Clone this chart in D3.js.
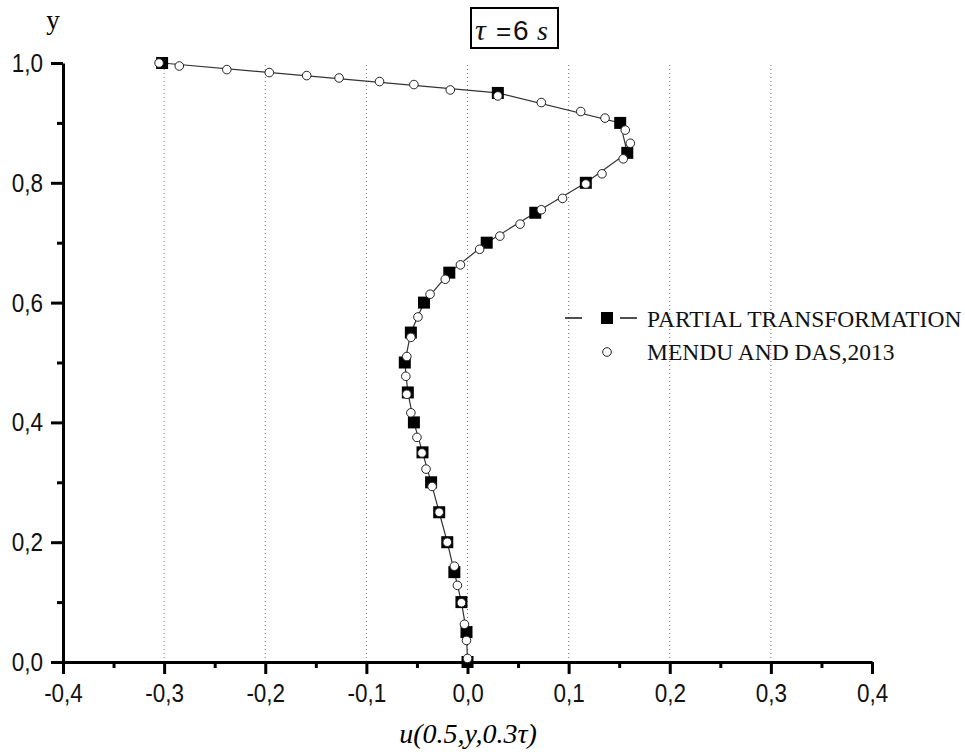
<!DOCTYPE html>
<html>
<head>
<meta charset="utf-8">
<script src="https://cdn.jsdelivr.net/npm/d3@7"></script>
<style>
	body { margin: 0; background: #fff; }
	svg { display: block; }
</style>
</head>
<body>
<div id="chart"></div>
<script>
// partial transformation results (squares + line)
var pt_x = [-0.302, 0.030, 0.151, 0.158, 0.117, 0.067, 0.019, -0.018, -0.043, -0.056, -0.062,
	-0.059, -0.053, -0.0445, -0.036, -0.028, -0.020, -0.013, -0.006, -0.001, 0.0];
var pt_y = [1.0, 0.95, 0.9, 0.85, 0.8, 0.75, 0.7, 0.65, 0.6, 0.55, 0.5,
	0.45, 0.4, 0.35, 0.3, 0.25, 0.2, 0.15, 0.1, 0.05, 0.0];

// Mendu and Das, 2013 (open circles)
var md_x = [-0.305, -0.285, -0.238, -0.196, -0.159, -0.127, -0.087, -0.053, -0.017, 0.030,
	0.073, 0.112, 0.136, 0.156, 0.161, 0.154, 0.133, 0.117, 0.094, 0.073,
	0.052, 0.032, 0.012, -0.007, -0.022, -0.037, -0.049, -0.056, -0.060, -0.061,
	-0.060, -0.056, -0.050, -0.045, -0.041, -0.035, -0.028, -0.020, -0.013, -0.010,
	-0.006, -0.003, -0.001, 0.0];
var md_y = [1.0, 0.995, 0.989, 0.984, 0.979, 0.975, 0.969, 0.964, 0.955, 0.945,
	0.934, 0.919, 0.908, 0.888, 0.866, 0.840, 0.815, 0.798, 0.774, 0.755,
	0.731, 0.711, 0.689, 0.663, 0.639, 0.614, 0.576, 0.542, 0.510, 0.477,
	0.447, 0.416, 0.375, 0.349, 0.322, 0.293, 0.250, 0.200, 0.160, 0.128,
	0.099, 0.063, 0.036, 0.006];

var x_ticks = [-0.4, -0.3, -0.2, -0.1, 0.0, 0.1, 0.2, 0.3, 0.4];
var x_minor = [-0.35, -0.25, -0.15, -0.05, 0.05, 0.15, 0.25, 0.35];
var y_ticks = [0.0, 0.2, 0.4, 0.6, 0.8, 1.0];
var y_minor = [0.1, 0.3, 0.5, 0.7, 0.9];
var grid_x = [-0.3, -0.2, -0.1, 0.0, 0.1, 0.2, 0.3];
var legend_names = ['PARTIAL TRANSFORMATION', 'MENDU AND DAS,2013'];

var width = 965, height = 755;
var stretch = 1.17; // tick labels look taller than wide in the original
var commaFmt = function(d){ return d3.format('.1f')(d).replace('.', ',').replace('\u2212', '-'); };

var svg = d3.select('#chart').append('svg')
	.attr('width', width)
	.attr('height', height);

var x = d3.scaleLinear().domain([-0.4, 0.4]).range([63, 872]);
var y = d3.scaleLinear().domain([0, 1]).range([662, 63]);

// dotted grid
svg.append('g').selectAll('line')
	.data(grid_x)
	.enter().append('line')
	.attr('x1', d => x(d)).attr('x2', d => x(d))
	.attr('y1', y(0)).attr('y2', y(1))
	.attr('stroke', '#777')
	.attr('stroke-width', 1)
	.attr('stroke-dasharray', '1,3');

// minor ticks
svg.append('g')
	.attr('transform', 'translate(0,' + y(0) + ')')
	.call(d3.axisBottom(x).tickValues(x_minor).tickSize(6).tickFormat(''))
	.call(g => g.select('.domain').remove())
	.selectAll('line').attr('stroke-width', 3);
svg.append('g')
	.attr('transform', 'translate(' + x(-0.4) + ',0)')
	.call(d3.axisLeft(y).tickValues(y_minor).tickSize(6).tickFormat(''))
	.call(g => g.select('.domain').remove())
	.selectAll('line').attr('stroke-width', 3);

// major axes
var xAxis = svg.append('g')
	.attr('transform', 'translate(0,' + y(0) + ')')
	.call(d3.axisBottom(x).tickValues(x_ticks).tickSize(12).tickSizeOuter(0).tickPadding(9).tickFormat(commaFmt));
var yAxis = svg.append('g')
	.attr('transform', 'translate(' + x(-0.4) + ',0)')
	.call(d3.axisLeft(y).tickValues(y_ticks).tickSize(12).tickSizeOuter(0).tickPadding(8).tickFormat(commaFmt));

[xAxis, yAxis].forEach(function(g){
	g.select('.domain').attr('stroke-width', 3);
	g.selectAll('.tick line').attr('stroke-width', 3);
	g.selectAll('.tick text')
		.attr('font-family', 'Liberation Sans, Arial, sans-serif')
		.attr('font-size', 22.5)
		.attr('fill', '#111')
		.attr('transform', 'scale(1,' + stretch + ')');
});
xAxis.selectAll('.tick text').attr('y', 21 / stretch);

// line through partial transformation points
var ptData = pt_x.map((d, i) => [d, pt_y[i]]);
var mdData = md_x.map((d, i) => [d, md_y[i]]);

svg.append('path')
	.datum(ptData)
	.attr('fill', 'none')
	.attr('stroke', '#333')
	.attr('stroke-width', 1.2)
	.attr('d', d3.line().x(d => x(d[0])).y(d => y(d[1])));

var sq = 12;
svg.append('g').selectAll('rect')
	.data(ptData)
	.enter().append('rect')
	.attr('x', d => x(d[0]) - sq/2)
	.attr('y', d => y(d[1]) - sq/2)
	.attr('width', sq).attr('height', sq)
	.attr('fill', '#000');

svg.append('g').selectAll('circle')
	.data(mdData)
	.enter().append('circle')
	.attr('cx', d => x(d[0]))
	.attr('cy', d => y(d[1]))
	.attr('r', 4.3)
	.attr('fill', '#fff')
	.attr('stroke', '#222')
	.attr('stroke-width', 1);

// legend
var lg = svg.append('g');
[[565, 582], [620, 637]].forEach(function(s){
	lg.append('line').attr('x1', s[0]).attr('x2', s[1]).attr('y1', 318).attr('y2', 318)
		.attr('stroke', '#222').attr('stroke-width', 1.6);
});
lg.append('rect').attr('x', 601).attr('y', 312).attr('width', 12).attr('height', 12).attr('fill', '#000');
lg.append('circle').attr('cx', 607).attr('cy', 352).attr('r', 4.3)
	.attr('fill', '#fff').attr('stroke', '#222');
lg.selectAll('text')
	.data(legend_names)
	.enter().append('text')
	.attr('x', 647)
	.attr('y', (d, i) => 327 + i * 33)
	.attr('font-family', 'Liberation Serif, Times New Roman, serif')
	.attr('font-size', 23.5)
	.attr('fill', '#111')
	.text(d => d);

// title box
svg.append('rect')
	.attr('x', 471).attr('y', 8).attr('width', 87).attr('height', 40)
	.attr('fill', 'none').attr('stroke', '#000').attr('stroke-width', 2);
var title = svg.append('text').attr('y', 40).attr('fill', '#111');
title.append('tspan').attr('x', 475).attr('font-family', 'Liberation Serif, serif')
	.attr('font-style', 'italic').attr('font-size', 30).text('τ');
title.append('tspan').attr('x', 496).attr('font-family', 'Liberation Sans, Arial, sans-serif')
	.attr('font-size', 26).text('=');
title.append('tspan').attr('x', 513).attr('font-family', 'Liberation Sans, Arial, sans-serif')
	.attr('font-size', 28).text('6');
title.append('tspan').attr('x', 537).attr('font-family', 'Liberation Serif, serif')
	.attr('font-style', 'italic').attr('font-size', 28).text('s');

// axis labels
svg.append('text')
	.attr('x', 53).attr('y', 29)
	.attr('text-anchor', 'middle')
	.attr('font-family', 'Liberation Serif, Times New Roman, serif')
	.attr('font-size', 27)
	.text('y');

svg.append('text')
	.attr('x', 468).attr('y', 743)
	.attr('text-anchor', 'middle')
	.attr('font-family', 'Liberation Serif, Times New Roman, serif')
	.attr('font-style', 'italic')
	.attr('font-size', 28)
	.text('u(0.5,y,0.3τ)');
</script>
</body>
</html>
